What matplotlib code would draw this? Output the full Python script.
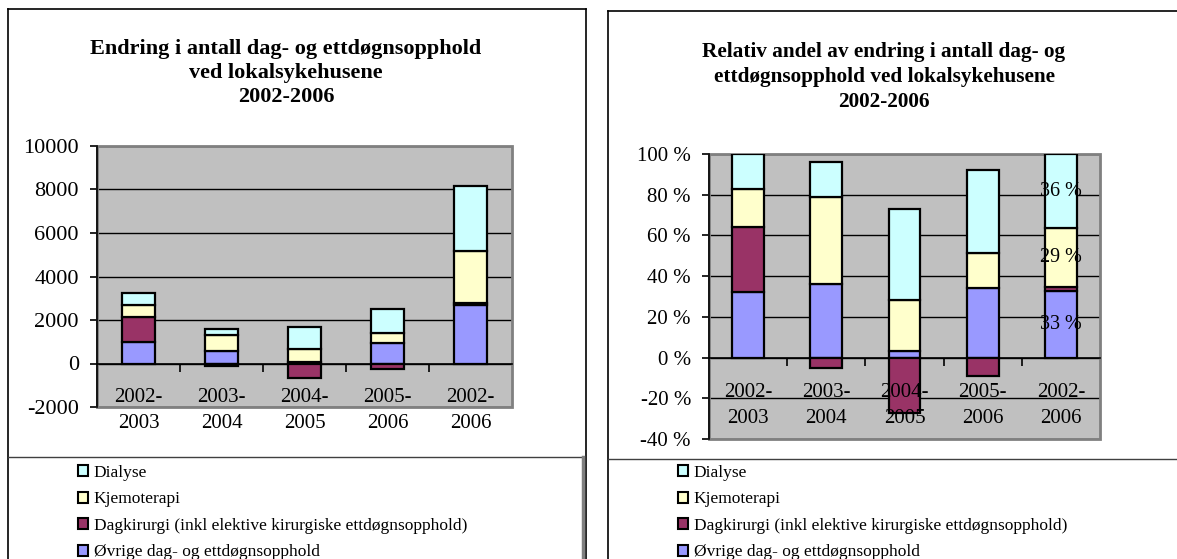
import numpy as np
import matplotlib
matplotlib.use("Agg")
import matplotlib.pyplot as plt
from matplotlib.lines import Line2D
from matplotlib.patches import Rectangle, Patch
from matplotlib.ticker import NullFormatter, FuncFormatter

plt.rcParams['font.family'] = ['Liberation Serif', 'DejaVu Serif']

# ---------------- data ----------------
categories = ['2002-\n2003', '2003-\n2004', '2004-\n2005', '2005-\n2006', '2002-\n2006']
series_names = ['Øvrige dag- og ettdøgnsopphold',
                'Dagkirurgi (inkl elektive kirurgiske ettdøgnsopphold)',
                'Kjemoterapi',
                'Dialyse']

# left chart: absolute change
ovrige_abs = [1000, 570, 50, 930, 2670]
dagkir_abs = [1130, -110, -650, -260, 120]
kjemo_abs = [540, 730, 615, 460, 2400]
dialyse_abs = [590, 280, 1020, 1130, 2970]

# right chart: relative share (%)
ovrige_pct = [32, 36, 3, 34, 32.7]
dagkir_pct = [32, -5, -27, -9, 2.2]
kjemo_pct = [19, 43, 25.5, 17.5, 28.7]
dialyse_pct = [17, 17, 44.5, 40.5, 36.4]

left_title = ['Endring i antall dag- og ettdøgnsopphold', 'ved lokalsykehusene', '2002-2006']
right_title = ['Relativ andel av endring i antall dag- og', 'ettdøgnsopphold ved lokalsykehusene', '2002-2006']

colors = ['#9999FF', '#993366', '#FFFFCC', '#CCFFFF']

W, H = 1177, 559
fig = plt.figure(figsize=(W / 100, H / 100), dpi=100)


def fx(x):
    return x / W


def fy(y):
    return 1 - y / H


def line(x0, y0, x1, y1, color='black', lw=1.2):
    fig.add_artist(Line2D([fx(x0), fx(x1)], [fy(y0), fy(y1)], color=color, lw=lw,
                          transform=fig.transFigure))


# panel borders
line(8, 9, 586, 9); line(8, 9, 8, H); line(586, 9, 586, H)
line(8, 457, 583, 457, color='#404040', lw=1)
line(583, 457, 583, H, color='#808080', lw=2.5)
line(608, 11, W, 11); line(608, 11, 608, H)
line(608, 459, W, 459, color='#404040', lw=1)


def make_axes(rect_px):
    x0, x1, ytop, ybot = rect_px
    ax = fig.add_axes([fx(x0), fy(ybot), (x1 - x0) / W, (ybot - ytop) / H])
    return ax


def stacked(ax, data, width):
    x = np.arange(len(categories))
    pos = np.zeros(len(x))
    neg = np.zeros(len(x))
    conts = []
    for vals, col, name in zip(data, colors, series_names):
        v = np.array(vals, dtype=float)
        bottom = np.where(v >= 0, pos, neg)
        c = ax.bar(x, v, width, bottom=bottom, color=col, edgecolor='black',
                   linewidth=1.6, label=name, zorder=3)
        conts.append(c)
        pos += np.where(v >= 0, v, 0)
        neg += np.where(v < 0, v, 0)
    return conts


def style(ax, ylim, yticks, fmt, xpad, ylabsize):
    ax.set_facecolor('#C0C0C0')
    ax.set_xlim(-0.5, len(categories) - 0.5)
    ax.set_ylim(*ylim)
    ax.set_yticks(yticks)
    ax.yaxis.set_major_formatter(FuncFormatter(fmt))
    ax.yaxis.grid(True, color='black', linewidth=1)
    ax.set_axisbelow(True)
    for s in ['top', 'right']:
        ax.spines[s].set_visible(False)
    ax.spines['bottom'].set_position(('data', 0))
    ax.spines['bottom'].set_linewidth(1.2)
    ax.spines['bottom'].set_zorder(4)
    ax.spines['left'].set_linewidth(1.2)
    ax.spines['left'].set_zorder(5)
    ax.set_xticks(np.arange(len(categories) - 1) + 0.5)
    ax.xaxis.set_major_formatter(NullFormatter())
    ax.tick_params(axis='x', which='major', direction='out', length=6, width=1.2)
    ax.tick_params(axis='y', direction='out', length=5, width=1.2, labelsize=ylabsize, pad=8)
    ax.add_patch(Rectangle((0, 0), 1, 1, transform=ax.transAxes, fill=False,
                           edgecolor='#808080', lw=2, clip_on=False, zorder=2.5))
    # category labels drawn above the bars, just below the zero line
    for i, cat in enumerate(categories):
        ax.annotate(cat, xy=(i, 0), xytext=(0, -xpad), textcoords='offset points',
                    ha='center', va='top', fontsize=15, linespacing=1.5, zorder=6)


# left chart
axL = make_axes((97, 512, 146, 407))
contL = stacked(axL, [ovrige_abs, dagkir_abs, kjemo_abs, dialyse_abs], 0.39)
style(axL, (-2000, 10000), np.arange(-2000, 10001, 2000), lambda v, p: f'{v:.0f}', 17.5, 16)

# right chart
axR = make_axes((709, 1100, 154, 439))
contR = stacked(axR, [ovrige_pct, dagkir_pct, kjemo_pct, dialyse_pct], 0.405)
style(axR, (-40, 100), np.arange(-40, 101, 20), lambda v, p: f'{v:.0f} %', 18.5, 15)
last = len(categories) - 1
for c, vals, show in zip(contR, [ovrige_pct, dagkir_pct, kjemo_pct, dialyse_pct],
                         [True, False, True, True]):
    labs = [''] * len(categories)
    if show:
        labs[last] = f'{round(vals[last]):.0f} %'
    axR.bar_label(c, labels=labs, label_type='center', fontsize=14.5, color='black')

# titles
for cx, ys, lines_, fs in [(286, [54, 78, 102], left_title, 16),
                           (884, [57, 82, 107], right_title, 15.3)]:
    for yy, t in zip(ys, lines_):
        fig.text(fx(cx), fy(yy), t, ha='center', va='baseline', fontsize=fs,
                 fontweight='bold')

# legends
handles = [Patch(facecolor=c, edgecolor='black', linewidth=1.5) for c in colors][::-1]
labels = series_names[::-1]
for x0 in (78, 678):
    fig.legend(handles, labels, loc='upper left',
               bbox_to_anchor=(fx(x0), fy(465)), frameon=False, fontsize=12.5,
               handlelength=0.6, handleheight=0.6, handletextpad=0.3,
               labelspacing=0.6, borderpad=0, borderaxespad=0)

fig.savefig('out.png', dpi=100)
